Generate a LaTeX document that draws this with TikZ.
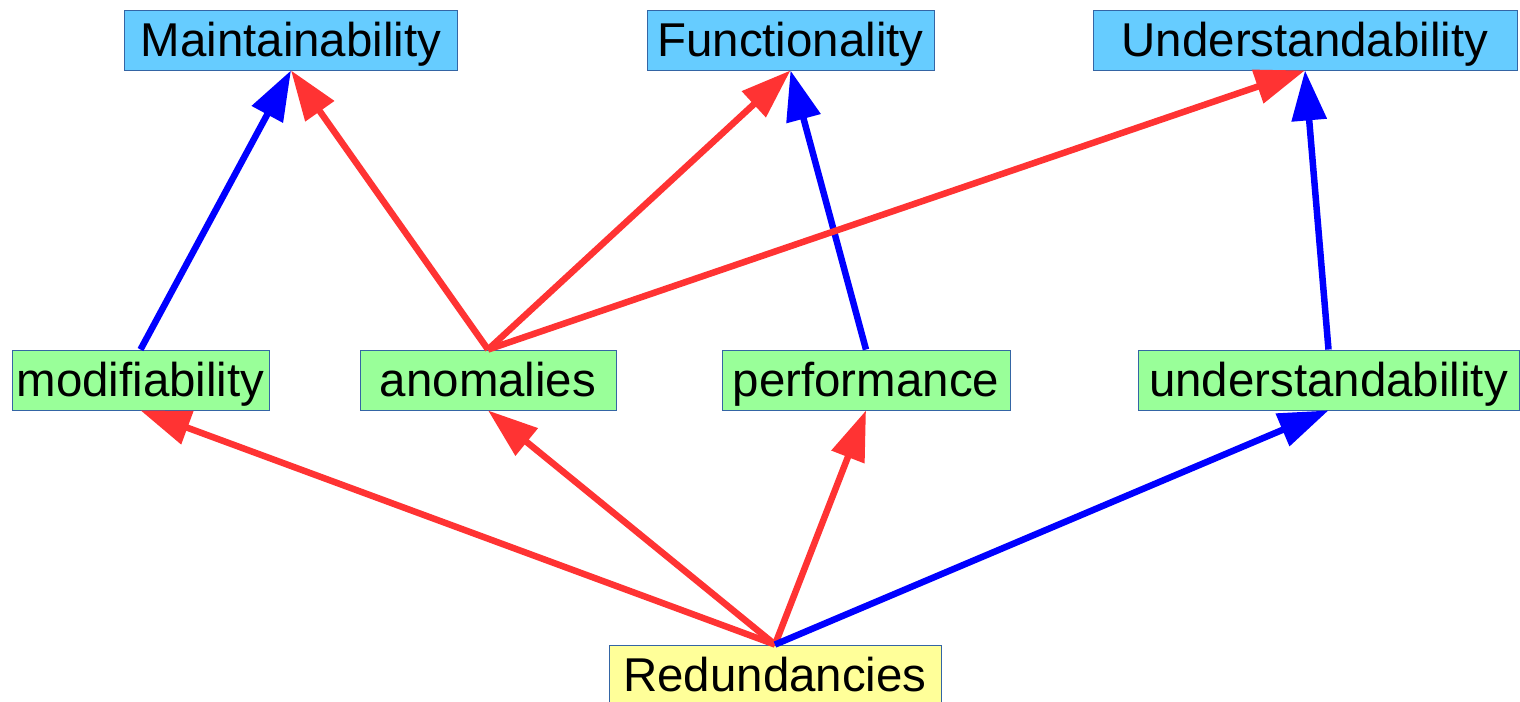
\documentclass[tikz,border=0pt]{standalone}
\usepackage{xcolor}
\usepackage{tikz}
\usepackage{fontspec}
\setmainfont{Liberation Sans}
\usetikzlibrary{
  arrows.meta,
  positioning,
  calc
}
\definecolor{rdEdge}{HTML}{3465A4}
\definecolor{rdQual}{HTML}{66CCFF}
\definecolor{rdAttr}{HTML}{99FF99}
\definecolor{rdRoot}{HTML}{FFFF99}
\definecolor{rdNeg}{HTML}{FF3333}
\definecolor{rdPos}{HTML}{0000FF}
\tikzset{
  rdnode/.style={
    draw=rdEdge, line width=0.5pt, minimum height=1.2cm, inner sep=0pt,
    text height=0.84cm, text depth=0.16cm,
    font=\fontsize{27}{30}\selectfont, text=black
  },
  quality/.style={rdnode, fill=rdQual},
  attribute/.style={rdnode, fill=rdAttr},
  rootbox/.style={rdnode, fill=rdRoot},
  hurts/.style={-{Triangle[length=1cm, width=0.68cm]}, line width=0.13cm, rdNeg},
  helps/.style={-{Triangle[length=1cm, width=0.68cm]}, line width=0.13cm, rdPos}
}

\begin{document}
\begin{tikzpicture}
  \useasboundingbox (0,0) rectangle (30.4,14.04);
  % top row: qualities
  \node[quality, minimum width=6.66cm] (maint) at (5.82,13.24) {Maintainability};
  \node[quality, minimum width=5.74cm] (func) at (15.81,13.24) {Functionality};
  \node[quality, minimum width=8.48cm] (under) at (26.10,13.24) {Understandability};
  % middle row: attributes
  \node[attribute, minimum width=5.14cm] (modif) at (2.81,6.44) {modifiability};
  \node[attribute, minimum width=5.12cm] (anom) at (9.76,6.44) {anomalies};
  \node[attribute, minimum width=5.76cm] (perf) at (17.32,6.44) {performance};
  \node[attribute, minimum width=7.62cm] (undattr) at (26.57,6.44) {understandability};
  % bottom: the cause
  \node[rootbox, minimum width=6.64cm] (redund) at (15.50,0.54) {Redundancies};

  % attributes -> qualities
  \draw[helps] (modif.north) -- (maint.south);
  \draw[hurts] (anom.north) -- (maint.south);
  \draw[hurts] (anom.north) -- (func.south);
  \draw[helps] (perf.north) -- (func.south);
  \draw[hurts] (anom.north) -- (under.south);
  \draw[helps] (undattr.north) -- (under.south);
  % redundancies -> attributes
  \foreach \tgt in {modif, anom, perf}{
    \draw[hurts] (redund.north) -- (\tgt.south);
  }
  \draw[helps] (redund.north) -- (undattr.south);
\end{tikzpicture}
\end{document}
